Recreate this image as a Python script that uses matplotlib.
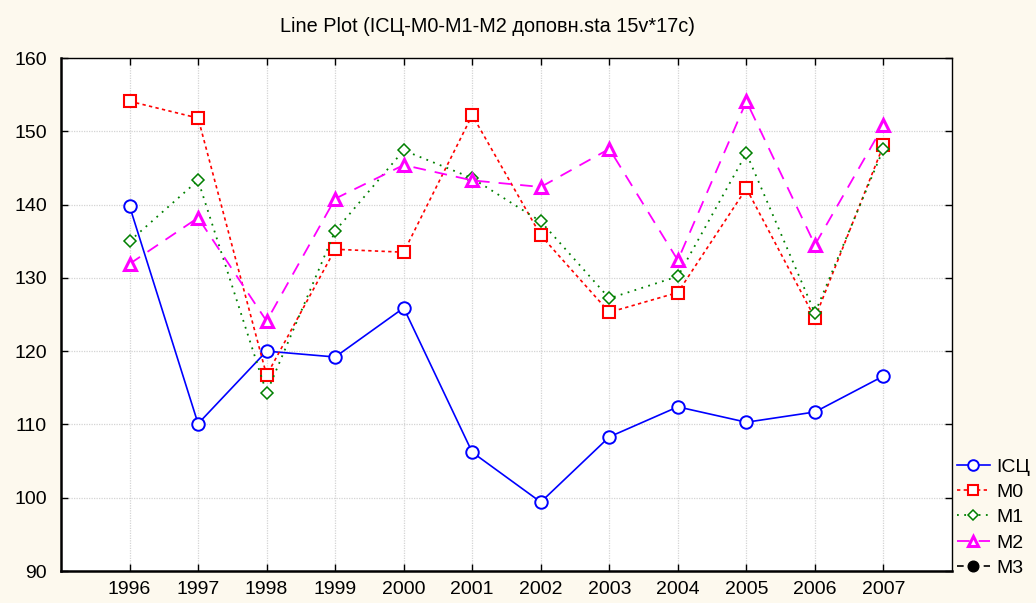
import matplotlib
matplotlib.use("Agg")
import matplotlib.pyplot as plt

years = [1996, 1997, 1998, 1999, 2000, 2001, 2002, 2003, 2004, 2005, 2006, 2007]
isc = [139.8, 110.1, 120.0, 119.2, 125.9, 106.2, 99.4, 108.3, 112.4, 110.3, 111.7, 116.6]
m0 = [154.1, 151.8, 116.7, 133.9, 133.5, 152.2, 135.8, 125.3, 128.0, 142.2, 124.5, 148.1]
m1 = [135.0, 143.3, 114.3, 136.4, 147.4, 143.6, 137.7, 127.2, 130.2, 147.0, 125.2, 147.6]
m2 = [131.9, 138.2, 124.1, 140.8, 145.4, 143.3, 142.4, 147.6, 132.4, 154.1, 134.5, 150.8]
m3 = []
labels = ["ІСЦ", "M0", "M1", "M2", "M3"]
yticks = [90, 100, 110, 120, 130, 140, 150, 160]

plt.rcParams['font.family'] = ['Liberation Sans', 'DejaVu Sans']

fig = plt.figure(figsize=(10.36, 6.03), dpi=100, facecolor='#fdf9ee')
ax = fig.add_axes([61/1036, 1-571/603, (952-61)/1036, (571-58)/603])
ax.set_facecolor('white')

ax.plot(years, isc, color='#0000ff', linestyle='-', linewidth=1.2, marker='o',
        markersize=9, markerfacecolor='white', markeredgecolor='#0000ff',
        markeredgewidth=1.4, label=labels[0], zorder=3)
ax.plot(years, m0, color='#ff0000', linestyle=(0, (2, 2)), linewidth=1.2, marker='s',
        markersize=9, markerfacecolor='white', markeredgecolor='#ff0000',
        markeredgewidth=1.5, label=labels[1], zorder=3)
ax.plot(years, m1, color='#008000', linestyle=(0, (1, 3)), linewidth=1.3, marker='D',
        markersize=6, markerfacecolor='white', markeredgecolor='#008000',
        markeredgewidth=1.1, label=labels[2], zorder=3)
ax.plot(years, m2, color='#ff00ff', linestyle=(0, (7, 5)), linewidth=1.3, marker='^',
        markersize=8, markerfacecolor='white', markeredgecolor='#ff00ff',
        markeredgewidth=2.2, label=labels[3], zorder=3)
ax.plot(m3, m3, color='black', linestyle=(0, (4, 4)), linewidth=1.2, marker='o',
        markersize=9, markerfacecolor='black', markeredgecolor='black', label=labels[4])

ax.set_xlim(1995, 2008)
ax.set_ylim(90, 160)
ax.set_xticks(years)
ax.set_yticks(yticks)
ax.tick_params(direction='in', length=5, width=1, labelsize=14, top=True, right=True,
               labeltop=False, labelright=False, pad=7)
ax.tick_params(axis='y', pad=10)
ax.grid(True, color='#d4d4d4', linestyle=(0, (1, 1)), linewidth=0.9)
for s in ['left', 'bottom']:
    ax.spines[s].set_linewidth(1.8)
for s in ['top', 'right']:
    ax.spines[s].set_linewidth(1.0)

fig.text(487/1036, 1-27/603, "Line Plot (ІСЦ-M0-M1-M2 доповн.sta 15v*17c)",
         ha='center', va='center', fontsize=14.3)

leg = fig.legend(loc='upper left', bbox_to_anchor=(953/1036, 1-454/603), frameon=False,
                 fontsize=14, handlelength=1.7, handletextpad=0.35, labelspacing=0.4,
                 borderaxespad=0, borderpad=0.2, markerscale=0.85)

fig.savefig("out.png", dpi=100, facecolor=fig.get_facecolor())
